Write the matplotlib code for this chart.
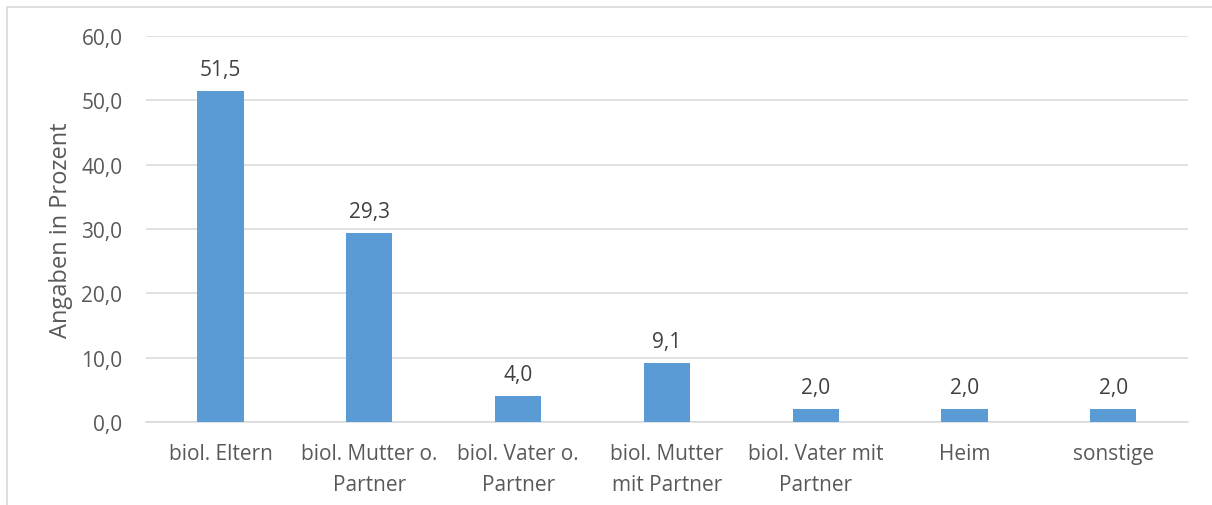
import matplotlib.pyplot as plt
from matplotlib.patches import Rectangle

# Lebenssituation - Angaben in Prozent
categories = ["biol. Eltern", "biol. Mutter o.\nPartner", "biol. Vater o.\nPartner",
              "biol. Mutter\nmit Partner", "biol. Vater mit\nPartner", "Heim", "sonstige"]
values = [51.5, 29.3, 4.0, 9.1, 2.0, 2.0, 2.0]
yticks = [0, 10, 20, 30, 40, 50, 60]

plt.rcParams['font.family'] = ['Open Sans', 'DejaVu Sans']
txt = "#595959"

fig = plt.figure(figsize=(12.12, 5.06), dpi=100)
ax = fig.add_axes([0.1205, 0.164, 0.8595, 0.763])

# chart frame (cut off on the right and bottom)
fig.patches.append(Rectangle((7 / 1212, -0.1), 1.2, 1 - 8 / 506 + 0.1, transform=fig.transFigure,
                             fill=False, edgecolor="#D9D9D9", linewidth=1.2))

x = list(range(len(values)))
ax.bar(x, values, width=0.31, color="#5B9BD5", zorder=3)
for xi, v in zip(x, values):
    ax.annotate(f"{v:.1f}".replace(".", ","), (xi, v), xytext=(0, 8), textcoords="offset points",
                ha="center", va="bottom", fontsize=15, color="#404040")

ax.set_xlim(-0.5, len(values) - 0.5)
ax.set_ylim(0, 60)
ax.set_yticks(yticks)
ax.set_yticklabels([f"{t:.1f}".replace(".", ",") for t in yticks], fontsize=15, color=txt)
ax.set_xticks(x)
ax.set_xticklabels(categories, fontsize=15, color=txt, linespacing=1.65)
ax.tick_params(axis="both", length=0)
ax.tick_params(axis="y", pad=17)
ax.tick_params(axis="x", pad=15)
ax.yaxis.grid(True, color="#D9D9D9", linewidth=1.1, zorder=0)
for s in ["top", "right", "left"]:
    ax.spines[s].set_visible(False)
ax.spines["bottom"].set_color("#D9D9D9")
ax.spines["bottom"].set_linewidth(1.1)
ax.set_ylabel("Angaben in Prozent", fontsize=17, color=txt, labelpad=6)

fig.savefig("out.png", dpi=100)
